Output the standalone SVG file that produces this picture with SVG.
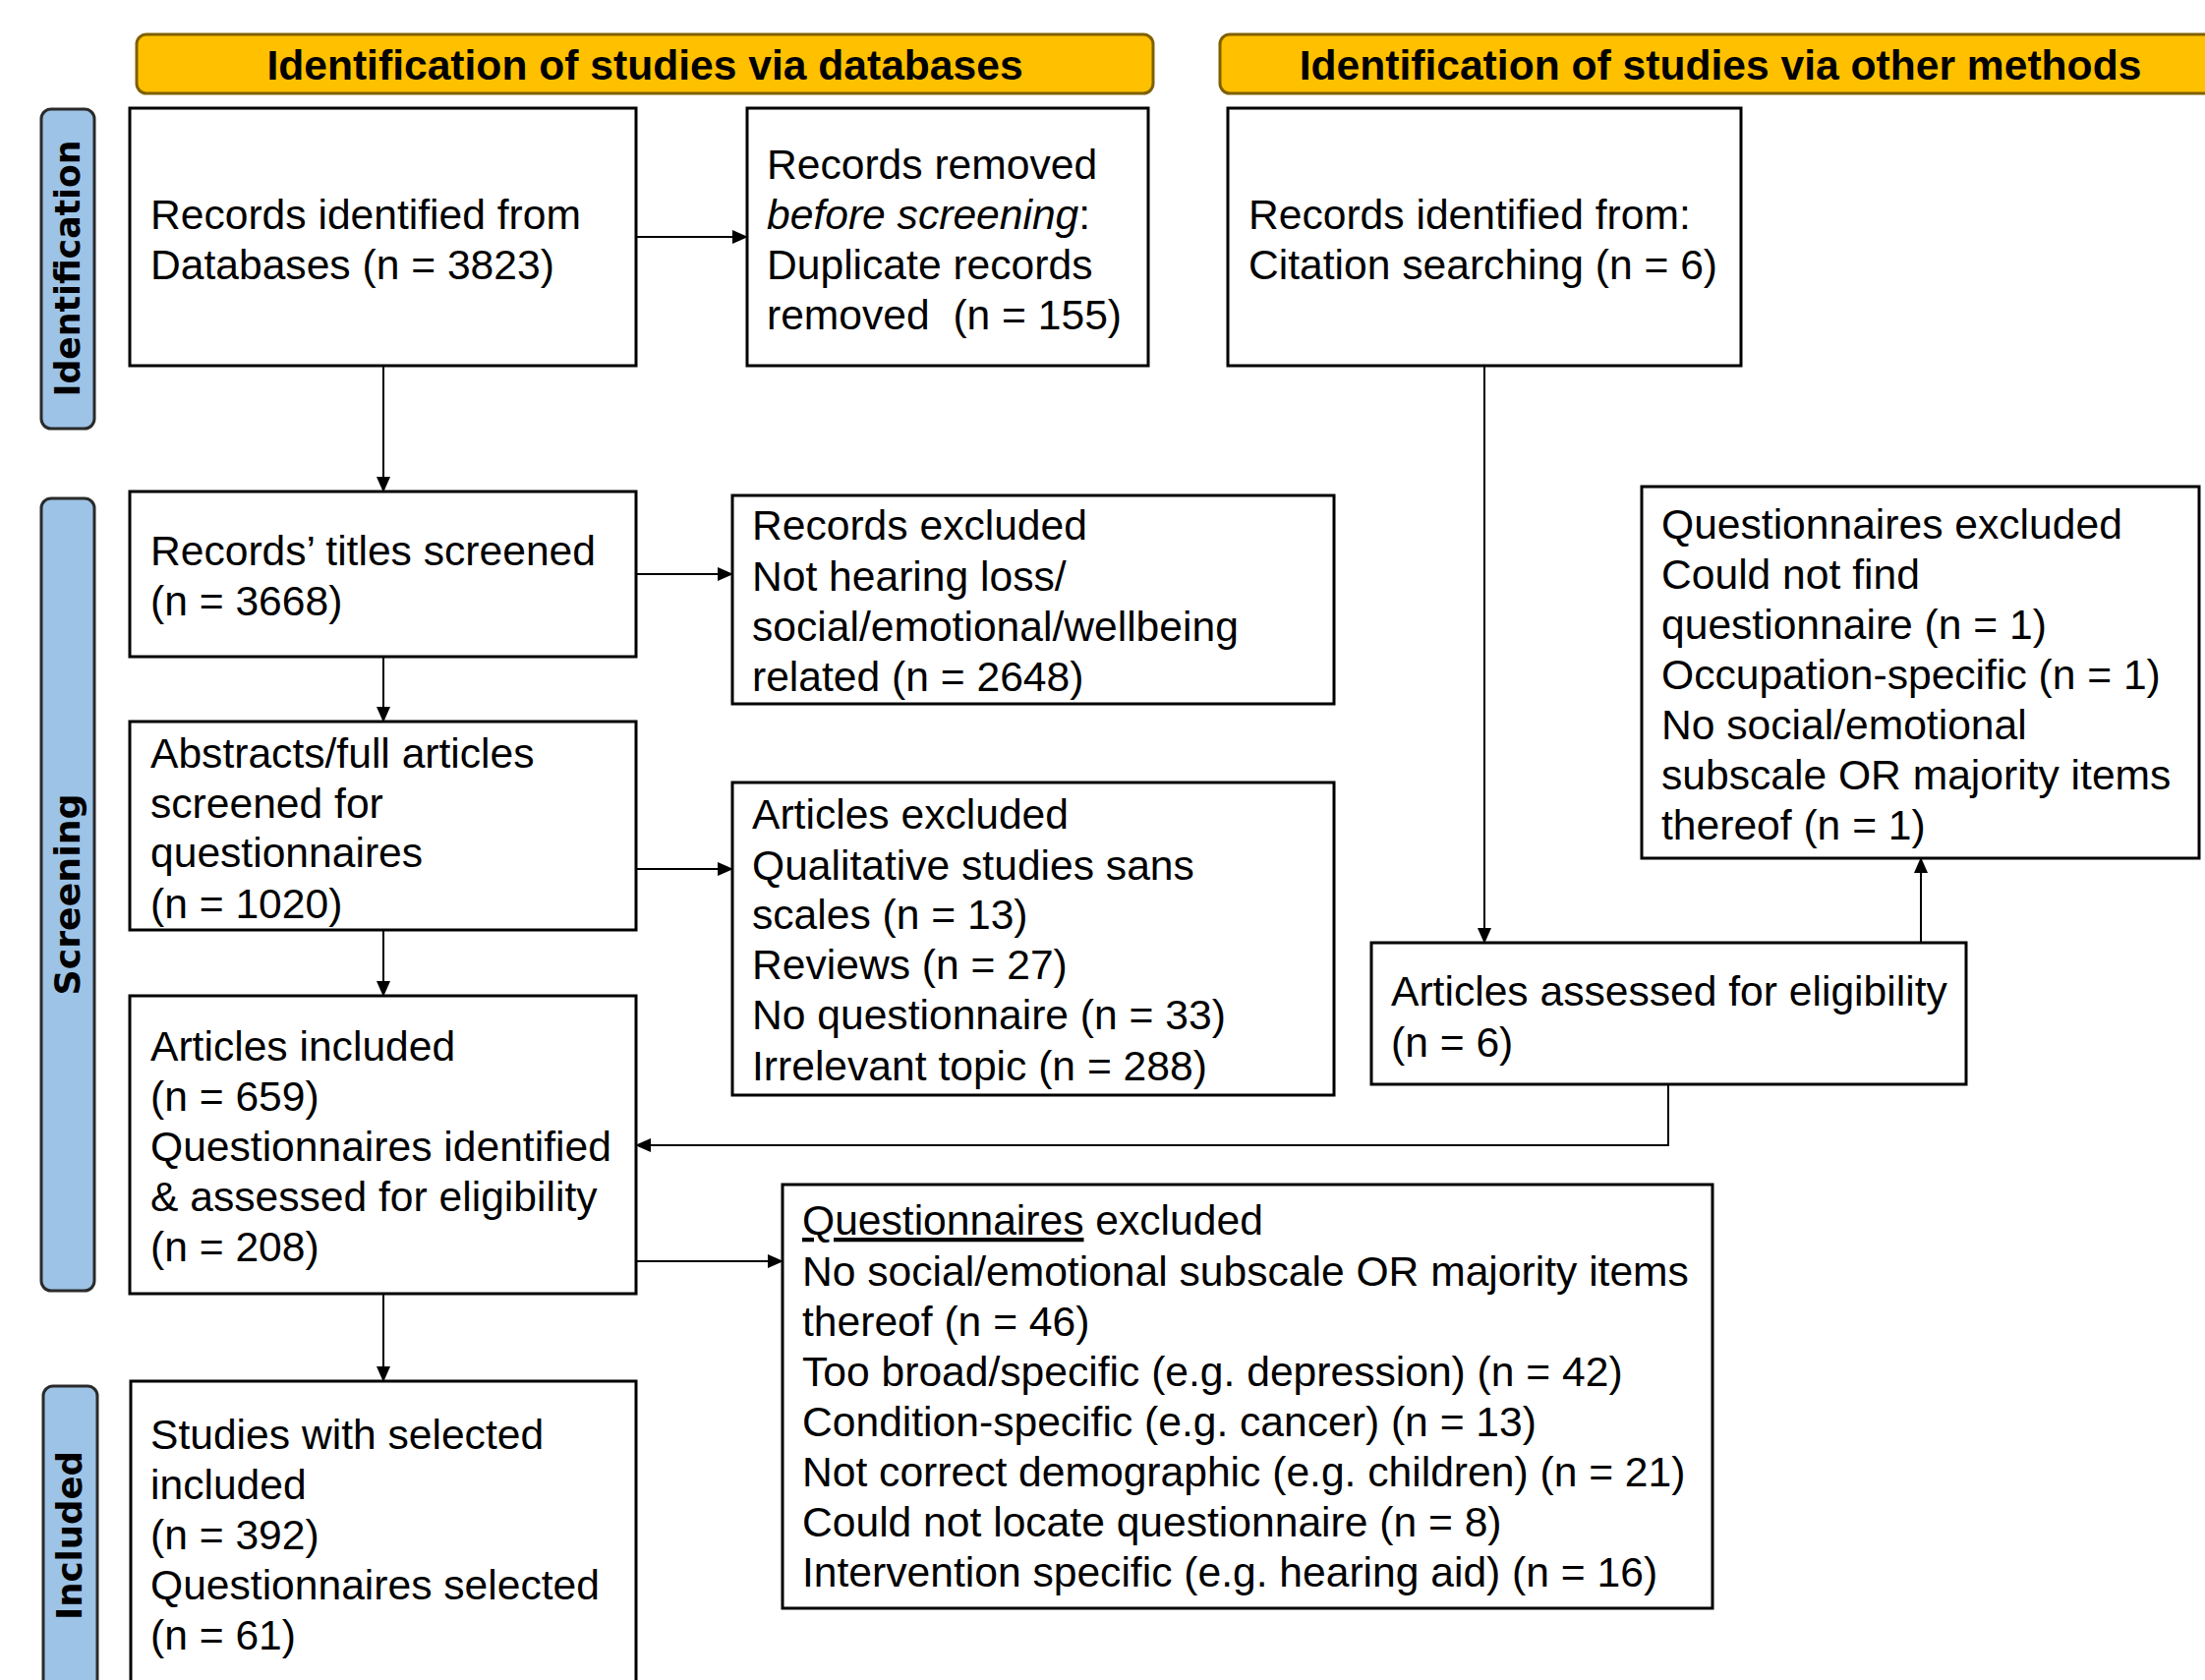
<svg xmlns="http://www.w3.org/2000/svg" width="2243" height="1709" viewBox="0 0 2243 1709">
<style>
.box{fill:#fff;stroke:#000;stroke-width:3}
.hdr{fill:#FFC000;stroke:#7F6000;stroke-width:3}
.side{fill:#9DC3E6;stroke:#2A2A2A;stroke-width:3}
.t{font-family:"Liberation Sans",Arial,sans-serif;font-size:42.6px;fill:#000}
.hb{font-family:"Liberation Sans",Arial,sans-serif;font-size:42.6px;font-weight:bold;fill:#000;text-anchor:middle}
.sl{font-family:"DejaVu Sans",Verdana,sans-serif;font-size:35px;font-weight:bold;fill:#000;text-anchor:middle}
.conn{fill:none;stroke:#000;stroke-width:2}
</style>
<defs>
<marker id="ah" markerUnits="userSpaceOnUse" markerWidth="16" markerHeight="14" refX="15" refY="7" orient="auto">
<path d="M0,0 L16,7 L0,14 Z" fill="#000"/>
</marker>
</defs>
<rect width="2243" height="1709" fill="#fff"/>

<g id="header-databases">
<rect class="hdr" x="139" y="35" width="1034" height="60" rx="10"/>
<text class="hb" x="656" y="81">Identification of studies via databases</text>
</g>
<g id="header-other">
<rect class="hdr" x="1241" y="35" width="1020" height="60" rx="10"/>
<text class="hb" x="1750" y="81">Identification of studies via other methods</text>
</g>

<g id="side-identification">
<rect class="side" x="42" y="111" width="54" height="325" rx="10"/>
<text class="sl" transform="translate(81,273) rotate(-90)" textLength="261" lengthAdjust="spacingAndGlyphs">Identification</text>
</g>
<g id="side-screening">
<rect class="side" x="42" y="507" width="54" height="806" rx="10"/>
<text class="sl" transform="translate(81,910) rotate(-90)" textLength="205" lengthAdjust="spacingAndGlyphs">Screening</text>
</g>
<g id="side-included">
<rect class="side" x="44" y="1410" width="55" height="320" rx="10"/>
<text class="sl" transform="translate(83,1562) rotate(-90)" textLength="172" lengthAdjust="spacingAndGlyphs">Included</text>
</g>

<g id="records-databases">
<rect class="box" x="132" y="110" width="515" height="262"/>
<text class="t" x="153" y="233">Records identified from</text>
<text class="t" x="153" y="284">Databases (n = 3823)</text>
</g>
<g id="records-removed">
<rect class="box" x="760" y="110" width="408" height="262"/>
<text class="t" x="780" y="182">Records removed</text>
<text class="t" x="780" y="233"><tspan font-style="italic">before screening</tspan>:</text>
<text class="t" x="780" y="284">Duplicate records</text>
<text class="t" x="780" y="335" xml:space="preserve">removed  (n = 155)</text>
</g>
<g id="records-citation">
<rect class="box" x="1249" y="110" width="522" height="262"/>
<text class="t" x="1270" y="233">Records identified from:</text>
<text class="t" x="1270" y="284">Citation searching (n = 6)</text>
</g>

<g id="titles-screened">
<rect class="box" x="132" y="500" width="515" height="168"/>
<text class="t" x="153" y="575">Records’ titles screened</text>
<text class="t" x="153" y="626">(n = 3668)</text>
</g>
<g id="records-excluded">
<rect class="box" x="745" y="504" width="612" height="212"/>
<text class="t" x="765" y="549">Records excluded</text>
<text class="t" x="765" y="601">Not hearing loss/</text>
<text class="t" x="765" y="652">social/emotional/wellbeing</text>
<text class="t" x="765" y="703">related (n = 2648)</text>
</g>
<g id="abstracts-screened">
<rect class="box" x="132" y="734" width="515" height="212"/>
<text class="t" x="153" y="781">Abstracts/full articles</text>
<text class="t" x="153" y="832">screened for</text>
<text class="t" x="153" y="882">questionnaires</text>
<text class="t" x="153" y="934">(n = 1020)</text>
</g>
<g id="articles-excluded">
<rect class="box" x="745" y="796" width="612" height="318"/>
<text class="t" x="765" y="843">Articles excluded</text>
<text class="t" x="765" y="895">Qualitative studies sans</text>
<text class="t" x="765" y="945">scales (n = 13)</text>
<text class="t" x="765" y="996">Reviews (n = 27)</text>
<text class="t" x="765" y="1047">No questionnaire (n = 33)</text>
<text class="t" x="765" y="1099">Irrelevant topic (n = 288)</text>
</g>
<g id="articles-included">
<rect class="box" x="132" y="1013" width="515" height="303"/>
<text class="t" x="153" y="1079">Articles included</text>
<text class="t" x="153" y="1130">(n = 659)</text>
<text class="t" x="153" y="1181">Questionnaires identified</text>
<text class="t" x="153" y="1232">&amp; assessed for eligibility</text>
<text class="t" x="153" y="1283">(n = 208)</text>
</g>
<g id="questionnaires-excluded">
<rect class="box" x="796" y="1205" width="946" height="431"/>
<text class="t" x="816" y="1256"><tspan text-decoration="underline">Questionnaires</tspan> excluded</text>
<text class="t" x="816" y="1308">No social/emotional subscale OR majority items</text>
<text class="t" x="816" y="1359">thereof (n = 46)</text>
<text class="t" x="816" y="1410">Too broad/specific (e.g. depression) (n = 42)</text>
<text class="t" x="816" y="1461">Condition-specific (e.g. cancer) (n = 13)</text>
<text class="t" x="816" y="1512">Not correct demographic (e.g. children) (n = 21)</text>
<text class="t" x="816" y="1563">Could not locate questionnaire (n = 8)</text>
<text class="t" x="816" y="1614">Intervention specific (e.g. hearing aid) (n = 16)</text>
</g>
<g id="studies-included">
<rect class="box" x="133" y="1405" width="514" height="320"/>
<text class="t" x="153" y="1474">Studies with selected</text>
<text class="t" x="153" y="1525">included</text>
<text class="t" x="153" y="1576">(n = 392)</text>
<text class="t" x="153" y="1627">Questionnaires selected</text>
<text class="t" x="153" y="1678">(n = 61)</text>
</g>
<g id="questionnaires-excluded-other">
<rect class="box" x="1670" y="495" width="567" height="378"/>
<text class="t" x="1690" y="548">Questionnaires excluded</text>
<text class="t" x="1690" y="599">Could not find</text>
<text class="t" x="1690" y="650">questionnaire (n = 1)</text>
<text class="t" x="1690" y="701">Occupation-specific (n = 1)</text>
<text class="t" x="1690" y="752">No social/emotional</text>
<text class="t" x="1690" y="803">subscale OR majority items</text>
<text class="t" x="1690" y="854">thereof (n = 1)</text>
</g>
<g id="articles-assessed">
<rect class="box" x="1395" y="959" width="605" height="144"/>
<text class="t" x="1415" y="1023">Articles assessed for eligibility</text>
<text class="t" x="1415" y="1075">(n = 6)</text>
</g>

<g id="connectors">
<path class="conn" marker-end="url(#ah)" d="M390,372 V500"/>
<path class="conn" marker-end="url(#ah)" d="M647,241 H760"/>
<path class="conn" marker-end="url(#ah)" d="M647,584 H745"/>
<path class="conn" marker-end="url(#ah)" d="M390,668 V734"/>
<path class="conn" marker-end="url(#ah)" d="M647,884 H745"/>
<path class="conn" marker-end="url(#ah)" d="M390,946 V1013"/>
<path class="conn" marker-end="url(#ah)" d="M647,1283 H796"/>
<path class="conn" marker-end="url(#ah)" d="M390,1316 V1405"/>
<path class="conn" marker-end="url(#ah)" d="M1510,372 V959"/>
<path class="conn" marker-end="url(#ah)" d="M1954,959 V873"/>
<path class="conn" marker-end="url(#ah)" d="M1697,1103 V1165 H647"/>
</g>
</svg>
